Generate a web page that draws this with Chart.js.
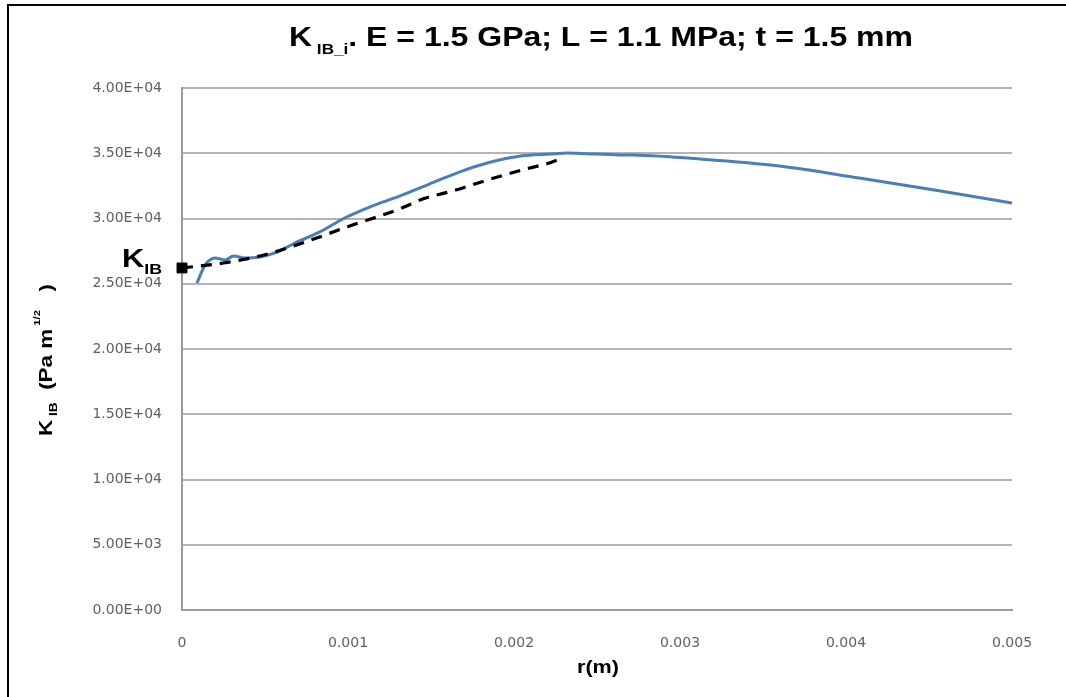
<!DOCTYPE html>
<html><head><meta charset="utf-8">
<script src="https://cdn.jsdelivr.net/npm/chart.js@4"></script>
<style>html,body{margin:0;padding:0;background:#fff}#wrap{width:1066px;height:697px;position:relative}</style>
</head><body><div id="wrap"><canvas id="c" width="1066" height="697"></canvas></div>
<script>
// Blue series: K_IB_i vs r (m)
const blueR = [0.00009,0.00014,0.0002,0.00026,0.00031,0.00038,0.00047,0.00056,0.00068,0.00083,0.00098,0.00113,0.00131,0.00149,0.00167,0.00186,0.00204,0.00222,0.00232,0.0024,0.00264,0.00272,0.00312,0.0036,0.00408,0.00457,0.005];
const blueK = [25050,26440,26970,26820,27130,26970,27050,27360,28120,28970,30040,30880,31720,32640,33560,34330,34790,34940,35010,34980,34870,34860,34560,34020,33100,32110,31190];
// Dashed fit series
const dashR = [0,0.00025,0.00047,0.00069,0.00101,0.00131,0.00145,0.00165,0.00184,0.00205,0.00223,0.00228];
const dashK = [26210,26590,27130,27970,29420,30730,31490,32180,32950,33720,34330,34600];
// K_IB marker
const markR = [0];
const markK = [26210];
const xTickLabels = ["0","0.001","0.002","0.003","0.004","0.005"];
const yTickLabels = ["0.00E+00","5.00E+03","1.00E+04","1.50E+04","2.00E+04","2.50E+04","3.00E+04","3.50E+04","4.00E+04"];

const toXY = (xs, ys) => xs.map((x,i)=>({x:x,y:ys[i]}));
const FONT = '"Liberation Sans", Arial, sans-serif';
const TFONT = '"DejaVu Sans", sans-serif';

function drawParts(ctx, parts, x0, base, targetW){
  let w=0; parts.forEach(p=>{ctx.font=p[1]+' '+FONT; w+=ctx.measureText(p[0]).width;});
  const sx = targetW ? targetW/w : 1;
  ctx.save();
  ctx.translate(x0, base);
  ctx.scale(sx,1);
  let x=0;
  parts.forEach(p=>{ctx.font=p[1]+' '+FONT; ctx.fillText(p[0],x,p[2]); x+=ctx.measureText(p[0]).width;});
  ctx.restore();
  return w*sx;
}

const deco = {
  id:'deco',
  afterDraw(chart){
    const ctx = chart.ctx;
    ctx.save();
    // frame
    ctx.strokeStyle='#000'; ctx.lineWidth=2;
    ctx.beginPath(); ctx.moveTo(8,697); ctx.lineTo(8,5); ctx.lineTo(1066,5); ctx.stroke();
    ctx.fillStyle='#000';
    ctx.textBaseline='alphabetic'; ctx.textAlign='left';
    // Title with subscript
    drawParts(ctx,[['K','bold 28px',0],[' IB_i','bold 15px',8],['. E = 1.5 GPa; L = 1.1 MPa; t = 1.5 mm','bold 28px',0]],289,46,624);
    // x axis title
    drawParts(ctx,[['r(m)','bold 18px',0]],577,673,42);
    // y axis title rotated
    ctx.save();
    ctx.translate(52,436); ctx.rotate(-Math.PI/2);
    drawParts(ctx,[['K','bold 18px',0],[' IB','bold 11px',5],['  (Pa m','bold 18px',0],[' 1/2','bold 9px',-12],['   )','bold 18px',0]],0,0,152);
    ctx.restore();
    // K_IB annotation label
    const xs=chart.scales.x, ys=chart.scales.y;
    const px=xs.getPixelForValue(markR[0]), py=ys.getPixelForValue(markK[0]);
    drawParts(ctx,[['K','bold 26px',0],['IB','bold 15px',7]],px-60,py-1,40);
    ctx.restore();
  }
};

new Chart(document.getElementById('c'),{
  type:'scatter',
  data:{datasets:[
    {data:toXY(blueR,blueK),showLine:true,borderColor:'#4a7ebb',borderWidth:3,pointRadius:0,tension:0.4,cubicInterpolationMode:'monotone',order:2},
    {data:toXY(dashR,dashK),showLine:true,borderColor:'#000',borderWidth:3.2,borderDash:[11,8],pointRadius:0,tension:0.3,cubicInterpolationMode:'monotone',order:1},
    {data:toXY(markR,markK),showLine:false,clip:false,pointStyle:'rect',pointRadius:7,backgroundColor:'#000',borderColor:'#000',order:0}
  ]},
  options:{
    responsive:false,animation:false,
    layout:{padding:{left:0,right:54,top:88,bottom:0}},
    plugins:{legend:{display:false},tooltip:{enabled:false}},
    scales:{
      x:{type:'linear',min:0,max:0.005,
        afterBuildTicks(s){s.ticks=[0,0.001,0.002,0.003,0.004,0.005].map(v=>({value:v}));},
        afterFit(s){s.height=87;},
        grid:{display:false,drawTicks:false},
        border:{display:true,color:'#9a9a9a',width:2},
        ticks:{padding:25,color:'#606060',font:{family:TFONT,size:14},callback:(v,i)=>xTickLabels[i],maxRotation:0}
      },
      y:{min:0,max:40000,
        afterBuildTicks(s){s.ticks=[0,5000,10000,15000,20000,25000,30000,35000,40000].map(v=>({value:v}));},
        afterFit(s){s.width=182;},
        grid:{color:'#b4b4b4',lineWidth:2,drawTicks:false},
        border:{display:true,color:'#9a9a9a',width:2},
        ticks:{padding:20,color:'#606060',font:{family:TFONT,size:14},callback:(v,i)=>yTickLabels[i]}
      }
    }
  },
  plugins:[deco]
});
</script></body></html>
